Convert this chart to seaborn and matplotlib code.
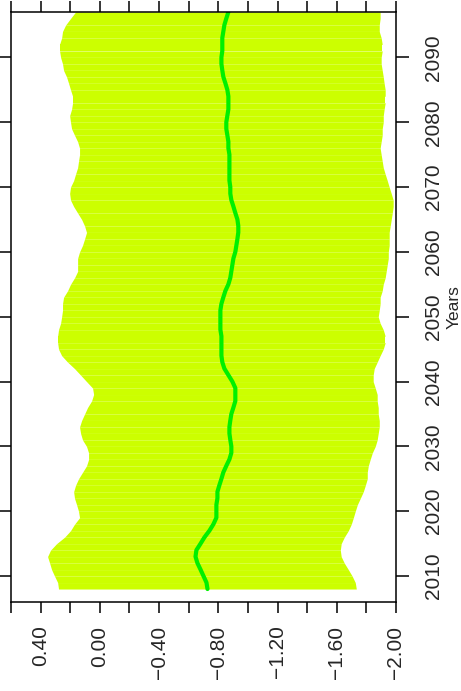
import numpy as np
import pandas as pd
import seaborn as sns
import matplotlib
matplotlib.use("Agg")
import matplotlib.pyplot as plt
from matplotlib.ticker import FixedLocator, FixedFormatter

# years of the series
years = list(range(2008, 2098))

# upper edge of the band (left side, because the value axis is reversed)
upper = [0.279, 0.285, 0.306, 0.326, 0.339, 0.353, 0.333, 0.292, 0.238, 0.198,
         0.171, 0.137, 0.144, 0.157, 0.171, 0.177, 0.164, 0.144, 0.117, 0.090,
         0.076, 0.076, 0.090, 0.117, 0.130, 0.137, 0.123, 0.103, 0.083, 0.056,
         0.042, 0.049, 0.090, 0.130, 0.171, 0.218, 0.258, 0.279, 0.285, 0.285,
         0.279, 0.265, 0.258, 0.252, 0.252, 0.245, 0.218, 0.198, 0.171, 0.150,
         0.150, 0.150, 0.137, 0.117, 0.103, 0.090, 0.103, 0.123, 0.150, 0.177,
         0.198, 0.204, 0.198, 0.177, 0.164, 0.150, 0.144, 0.137, 0.137, 0.150,
         0.171, 0.191, 0.198, 0.204, 0.191, 0.184, 0.184, 0.198, 0.211, 0.225,
         0.245, 0.252, 0.265, 0.272, 0.272, 0.258, 0.252, 0.231, 0.198, 0.164]

# lower edge of the band
lower = [-1.732, -1.725, -1.704, -1.678, -1.651, -1.630, -1.624, -1.630, -1.651, -1.678,
         -1.698, -1.712, -1.725, -1.739, -1.759, -1.779, -1.793, -1.806, -1.806, -1.813,
         -1.826, -1.840, -1.860, -1.873, -1.880, -1.887, -1.887, -1.880, -1.880, -1.873,
         -1.873, -1.860, -1.846, -1.846, -1.853, -1.873, -1.893, -1.914, -1.927, -1.927,
         -1.914, -1.893, -1.880, -1.887, -1.893, -1.893, -1.907, -1.914, -1.927, -1.934,
         -1.941, -1.948, -1.948, -1.954, -1.954, -1.954, -1.961, -1.968, -1.975, -1.981,
         -1.981, -1.968, -1.954, -1.941, -1.927, -1.914, -1.907, -1.900, -1.893, -1.900,
         -1.907, -1.907, -1.914, -1.914, -1.920, -1.927, -1.927, -1.927, -1.920, -1.914,
         -1.907, -1.900, -1.900, -1.907, -1.907, -1.900, -1.887, -1.887, -1.893, -1.893]

# central line
center = [-0.727, -0.720, -0.700, -0.680, -0.659, -0.646, -0.652, -0.680, -0.707, -0.740,
          -0.767, -0.787, -0.787, -0.787, -0.794, -0.794, -0.807, -0.821, -0.834, -0.854,
          -0.875, -0.888, -0.888, -0.881, -0.875, -0.875, -0.881, -0.888, -0.902, -0.915,
          -0.915, -0.915, -0.895, -0.868, -0.841, -0.827, -0.821, -0.821, -0.821, -0.821,
          -0.814, -0.814, -0.814, -0.814, -0.821, -0.834, -0.848, -0.868, -0.881, -0.888,
          -0.895, -0.902, -0.915, -0.922, -0.929, -0.935, -0.935, -0.929, -0.915, -0.902,
          -0.888, -0.881, -0.881, -0.875, -0.875, -0.875, -0.875, -0.875, -0.868, -0.868,
          -0.861, -0.854, -0.854, -0.861, -0.868, -0.868, -0.868, -0.861, -0.848, -0.834,
          -0.827, -0.821, -0.821, -0.827, -0.827, -0.827, -0.834, -0.841, -0.854, -0.868]

# axis ticks and labels
value_ticks = [0.6, 0.4, 0.2, 0.0, -0.2, -0.4, -0.6, -0.8, -1.0, -1.2, -1.4, -1.6, -1.8, -2.0]
value_labels = ['', '0.40', '', '0.00', '', '\u22120.40', '', '\u22120.80', '',
                '\u22121.20', '', '\u22121.60', '', '\u22122.00']
year_ticks = [2010, 2020, 2030, 2040, 2050, 2060, 2070, 2080, 2090]
year_labels = [str(y) for y in year_ticks]

df = pd.DataFrame({'year': years, 'upper': upper, 'lower': lower, 'center': center})

sns.set_style("ticks")
plt.rcParams['font.family'] = ['Liberation Sans', 'DejaVu Sans']
plt.rcParams['axes.unicode_minus'] = True

fig = plt.figure(figsize=(4.61, 6.91), dpi=100)
ax = fig.add_axes([11 / 461, 89 / 691, 385 / 461, 590 / 691])

fill_col = '#ccff00'
line_col = '#00f000'

# band drawn year by year (gives the faint seams between years)
for i in range(len(df) - 1):
    seg = df.iloc[i:i + 2]
    ax.fill_betweenx(seg['year'], seg['lower'], seg['upper'],
                     color=fill_col, linewidth=0, antialiased=True)

sns.lineplot(data=df, x='center', y='year', orient='y', sort=True,
             color=line_col, linewidth=3.0, ax=ax)

ax.set_xlim(0.6, -2.0)
ax.set_ylim(2006, 2097)

ax.xaxis.set_major_locator(FixedLocator(value_ticks))
ax.xaxis.set_major_formatter(FixedFormatter(value_labels))
ax.yaxis.set_major_locator(FixedLocator(year_ticks))
ax.yaxis.set_major_formatter(FixedFormatter(year_labels))

ax.tick_params(axis='both', direction='out', length=8, width=1.1, color='black',
               top=True, bottom=True, left=True, right=True,
               labelleft=False, labelright=True, labeltop=False, labelbottom=True,
               labelsize=15, pad=9)
ax.tick_params(axis='y', length=9, pad=11)
for lab in ax.get_xticklabels():
    lab.set_rotation(90)
for lab in ax.get_yticklabels():
    lab.set_rotation(90)
    lab.set_verticalalignment('center')

for sp in ax.spines.values():
    sp.set_visible(True)
    sp.set_linewidth(1.1)
    sp.set_color('black')

ax.set_xlabel('')
ax.yaxis.set_label_position('right')
ax.set_ylabel('Years', fontsize=12.5, rotation=90, labelpad=3)

fig.savefig('out.png', dpi=100)
